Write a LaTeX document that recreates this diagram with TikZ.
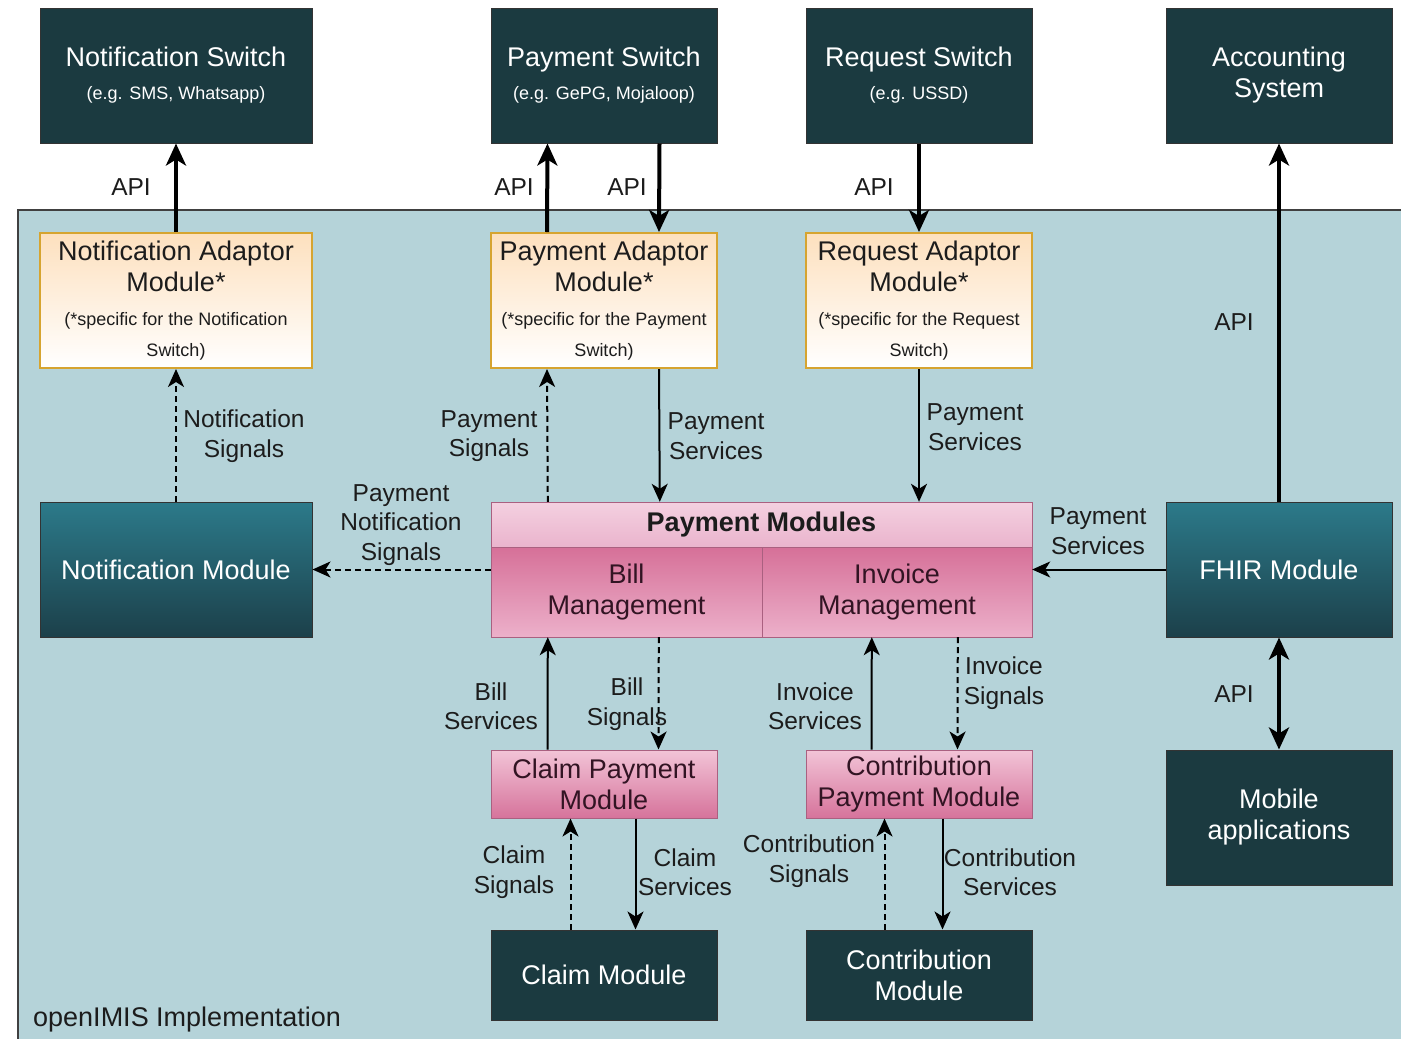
\documentclass[tikz,border=0pt]{standalone}
\usepackage{fontspec}
\setmainfont{Liberation Sans}
\usetikzlibrary{arrows.meta}
\definecolor{darkbox}{RGB}{27,58,64}
\definecolor{tealtop}{RGB}{44,122,138}
\definecolor{tealbot}{RGB}{28,64,74}
\definecolor{contbg}{RGB}{181,211,217}
\definecolor{adtop}{RGB}{253,224,190}
\definecolor{adborder}{RGB}{214,164,48}
\definecolor{pkhtop}{RGB}{244,208,224}
\definecolor{pkhbot}{RGB}{234,180,205}
\definecolor{pkltop}{RGB}{214,112,152}
\definecolor{pklbot}{RGB}{236,176,202}
\definecolor{pkctop}{RGB}{242,196,215}
\definecolor{pkcbot}{RGB}{214,115,155}
\definecolor{pkborder}{RGB}{170,96,128}
\definecolor{txt}{RGB}{28,28,28}
\definecolor{pktxt}{RGB}{50,20,35}
\newcommand\ftitle{\fontsize{27}{31}\selectfont}
\newcommand\fsmall{\fontsize{18}{31}\selectfont}
\newcommand\flabel{\fontsize{24.5}{29.5}\selectfont}
\tikzset{
  base/.style={rectangle, inner sep=0pt, align=center, font=\ftitle},
  darknode/.style={base, fill=darkbox, draw=black!80, line width=1pt, text=white},
  tealnode/.style={base, top color=tealtop, bottom color=tealbot, draw=black!80, line width=1pt, text=white},
  adaptnode/.style={base, top color=adtop, bottom color=white, draw=adborder, line width=2pt, text=txt},
  pinkhead/.style={base, top color=pkhtop, bottom color=pkhbot, draw=pkborder, line width=1pt, text=txt},
  pinklow/.style={base, top color=pkltop, bottom color=pklbot, draw=pkborder, line width=1pt, text=pktxt},
  pinkmod/.style={base, top color=pkctop, bottom color=pkcbot, draw=pkborder, line width=1pt, text=pktxt},
  lbl/.style={inner sep=0pt, align=center, font=\flabel, text=txt},
  thickarr/.style={line width=4pt, -{Stealth[length=22pt,width=20pt,inset=6pt]}},
  thickdbl/.style={line width=4pt, {Stealth[length=22pt,width=20pt,inset=6pt]}-{Stealth[length=22pt,width=20pt,inset=6pt]}},
  thinarr/.style={line width=2pt, -{Stealth[length=18pt,width=16pt,inset=5pt]}},
  dasharr/.style={line width=2pt, dash pattern=on 6pt off 4pt, -{Stealth[length=18pt,width=16pt,inset=5pt]}},
}
\begin{document}
\begin{tikzpicture}[x=1pt,y=-1pt]
\useasboundingbox (0,0) rectangle (1401,1039);
\clip (0,0) rectangle (1401,1039);
\fill[white] (0,0) rectangle (1401,1039);
% container
\draw[fill=contbg, draw=black!75, line width=2pt] (18,210) rectangle (1440,1080);
\node[lbl, anchor=west, font=\fontsize{27}{31}\selectfont] (impl) at (33,1020) {openIMIS Implementation};

% top switches
\node[darknode, minimum width=272, minimum height=135] (ns) at (176,75.5)
  {Notification Switch\\[2pt]\fsmall (e.g. SMS, Whatsapp)};
\node[darknode, minimum width=226, minimum height=135] (psw) at (604,75.5)
  {Payment Switch\\[2pt]\fsmall (e.g. GePG, Mojaloop)};
\node[darknode, minimum width=226, minimum height=135] (rsw) at (919,75.5)
  {Request Switch\\[2pt]\fsmall (e.g. USSD)};
\node[darknode, minimum width=226, minimum height=135] (acc) at (1279,75.5)
  {Accounting\\System};

% adaptors
\node[adaptnode, minimum width=272, minimum height=135] (na) at (176,300.5)
  {Notification Adaptor\\Module*\\[3pt]\fsmall (*specific for the Notification\\[0pt]\fsmall Switch)};
\node[adaptnode, minimum width=226, minimum height=135] (pa) at (604,300.5)
  {Payment Adaptor\\Module*\\[3pt]\fsmall (*specific for the Payment\\[0pt]\fsmall Switch)};
\node[adaptnode, minimum width=226, minimum height=135] (ra) at (919,300.5)
  {Request Adaptor\\Module*\\[3pt]\fsmall (*specific for the Request\\[0pt]\fsmall Switch)};

% middle row
\node[tealnode, minimum width=272, minimum height=135] (nm) at (176,569.5) {Notification Module};
\node[tealnode, minimum width=226, minimum height=135] (fhir) at (1279,569.5) {FHIR Module};
\node[base, minimum width=541, minimum height=135] (pm) at (761.5,569.5) {};
\node[pinkhead, minimum width=541, minimum height=45, font=\ftitle\bfseries] (pmh) at (761.5,524.5) {Payment Modules};
\node[pinklow, minimum width=271, minimum height=90] (bill) at (626.5,592) {Bill\\Management};
\node[pinklow, minimum width=270, minimum height=90] (inv) at (897,592) {Invoice\\Management};

% lower
\node[darknode, minimum width=226, minimum height=135] (mob) at (1279,817.5) {Mobile\\applications};
\node[pinkmod, minimum width=226, minimum height=68] (cp) at (604,784) {Claim Payment\\Module};
\node[pinkmod, minimum width=226, minimum height=68] (cpm) at (919,784) {Contribution\\Payment Module};
\node[darknode, minimum width=226, minimum height=90] (cm) at (604,975) {Claim Module};
\node[darknode, minimum width=226, minimum height=90] (ctm) at (919,975) {Contribution\\Module};

% API arrows
\draw[thickarr] (na.north) -- (ns.south);
\draw[thickarr] ([xshift=57]pa.north west) -- ([xshift=57]psw.south west);
\draw[thickarr] ([xshift=169]psw.south west) -- ([xshift=169]pa.north west);
\draw[thickarr] (rsw.south) -- (ra.north);
\draw[thickarr] (fhir.north) -- (acc.south);
\draw[thickdbl] (fhir.south) -- (mob.north);
\node[lbl] (api1) at (131,187) {API};
\node[lbl] (api2) at (514,187) {API};
\node[lbl] (api3) at (627,187) {API};
\node[lbl] (api4) at (874,187) {API};
\node[lbl] (api5) at (1234,322) {API};
\node[lbl] (api6) at (1234,694) {API};

% adaptor <-> modules
\draw[dasharr] (nm.north) -- (na.south);
\node[lbl] (l1) at (244,436) {Notification\\Signals};
\draw[dasharr] ([xshift=57]pm.north west) -- ([xshift=57]pa.south west);
\node[lbl] (l2) at (489,436) {Payment\\Signals};
\draw[thinarr] ([xshift=169]pa.south west) -- ([xshift=169]pm.north west);
\node[lbl] (l3) at (716,436) {Payment\\Services};
\draw[thinarr] (ra.south) -- (ra.south |- pm.north);
\node[lbl] (l4) at (975,427) {Payment\\Services};

\draw[dasharr] (pm.west) -- (nm.east);
\node[lbl] (l5) at (401,525) {Payment\\Notification\\Signals};
\draw[thinarr] (fhir.west) -- (pm.east);
\node[lbl] (l6) at (1098,531) {Payment\\Services};

% bill / invoice
\draw[thinarr] ([xshift=57]cp.north west) -- ([xshift=57]pm.south west);
\node[lbl] (l7) at (491,706) {Bill\\Services};
\draw[dasharr] ([xshift=168]pm.south west) -- ([xshift=168]cp.north west);
\node[lbl] (l8) at (627,704) {Bill\\Signals};
\draw[thinarr] ([xshift=66]cpm.north west) -- ([xshift=381]pm.south west);
\node[lbl] (l9) at (815,706) {Invoice\\Services};
\draw[dasharr] ([xshift=467]pm.south west) -- ([xshift=152]cpm.north west);
\node[lbl] (l10) at (1004,683) {Invoice\\Signals};

% claim / contribution
\draw[dasharr] ([xshift=80]cm.north west) -- ([xshift=80]cp.south west);
\node[lbl] (l11) at (514,872) {Claim\\Signals};
\draw[thinarr] ([xshift=145]cp.south west) -- ([xshift=145]cm.north west);
\node[lbl] (l12) at (685,872) {Claim\\Services};
\draw[dasharr] ([xshift=79]ctm.north west) -- ([xshift=79]cpm.south west);
\node[lbl] (l13) at (809,861) {Contribution\\Signals};
\draw[thinarr] ([xshift=137]cpm.south west) -- ([xshift=137]ctm.north west);
\node[lbl] (l14) at (1010,872) {Contribution\\Services};
\end{tikzpicture}
\end{document}
